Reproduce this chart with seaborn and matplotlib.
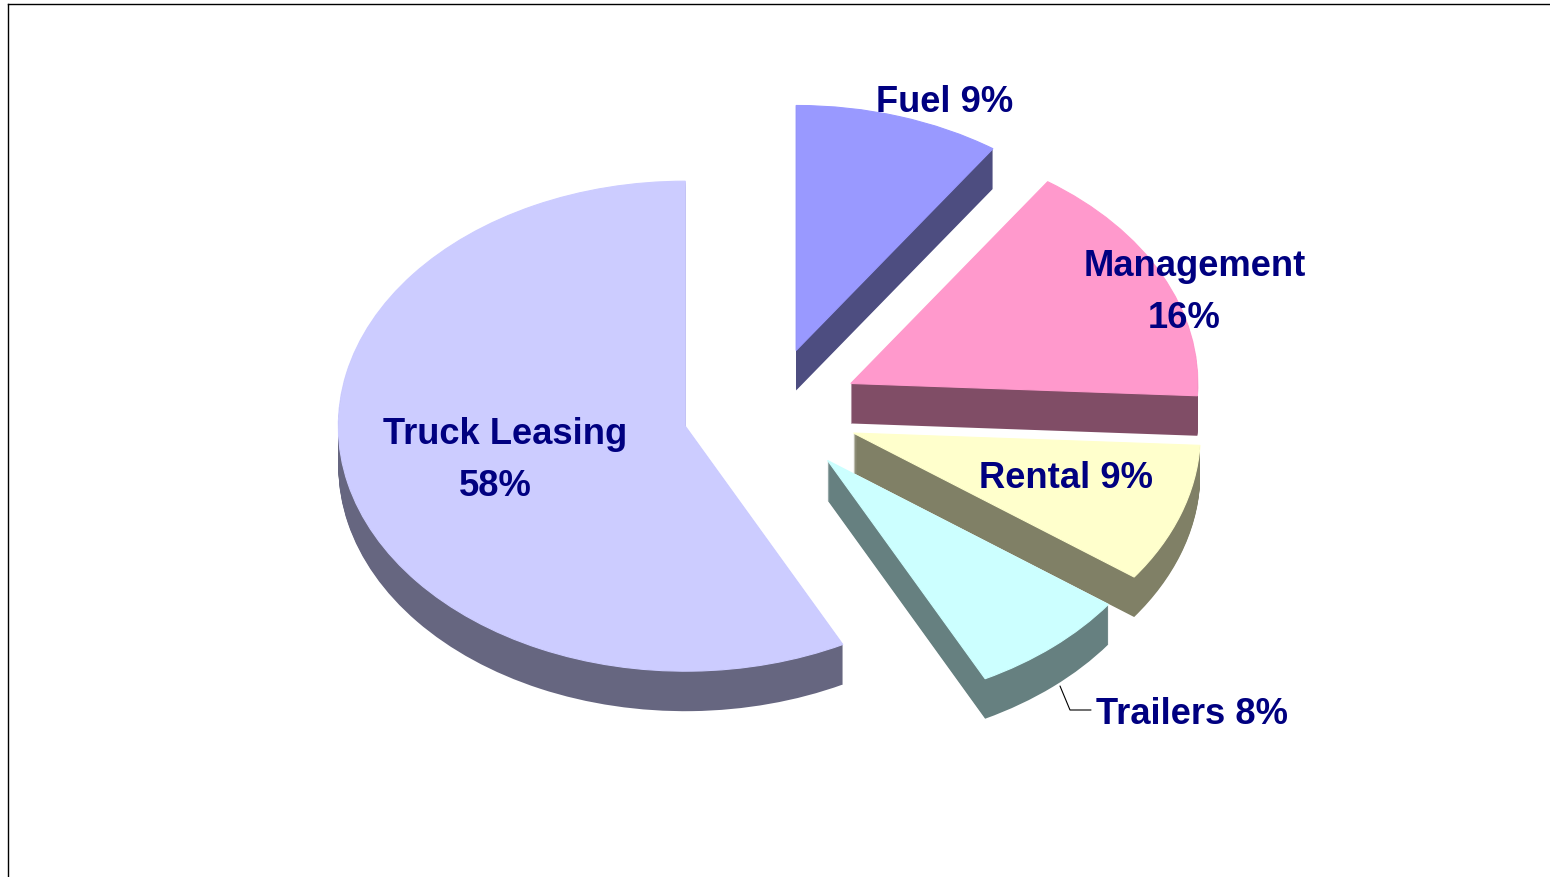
import matplotlib
matplotlib.use("Agg")
import matplotlib.pyplot as plt
import seaborn as sns

categories = ["Truck Leasing", "Trailers", "Rental", "Management", "Fuel"]
shares = [57.5, 7.5, 9.2, 16.2, 9.6]
explode = [0.248, 0.26, 0.258, 0.263, 0.263]
top_colors = ["#CCCCFF", "#CCFFFF", "#FFFFCC", "#FF99CC", "#9999FF"]
side_colors = ["#666680", "#668080", "#808066", "#804D66", "#4D4D80"]
label_lines = ["Truck Leasing", "58%", "Trailers 8%", "Rental 9%", "Management", "16%", "Fuel 9%"]
label_pos = [(505, 434), (495, 486), (1192, 714), (1066, 479), (1195, 266), (1184, 318), (945, 102)]

W, H = 1550, 877
CX, CY, RX, RY, DEPTH = 769, 412, 347, 245, 40
L, T = 8, 4

sns.set_theme(style="white")
plt.rcParams["font.family"] = ["Liberation Sans", "DejaVu Sans"]

fig = plt.figure(figsize=(W / 100, H / 100), dpi=100, facecolor="white")
ax = fig.add_axes([L / W, 0, (W - L) / W, (H - T) / H])

for k in range(DEPTH, 0, -1):
    ax.pie(shares, colors=side_colors, explode=explode, startangle=90, counterclock=True,
           center=(0, -k / RY), radius=1, normalize=True, frame=True,
           wedgeprops={"linewidth": 0.6, "edgecolor": "none"})
top_wedges, _ = ax.pie(shares, colors=top_colors, explode=explode, startangle=90, counterclock=True,
                       center=(0, 0), radius=1, normalize=True, frame=True)
for wedge, color in zip(top_wedges, top_colors):
    wedge.set_edgecolor(color)
    wedge.set_linewidth(0.8)

ax.set_aspect("auto")
ax.set_xlim((L - CX) / RX, (W - CX) / RX)
ax.set_ylim((CY - H) / RY, (CY - T) / RY)
ax.set_xticks([])
ax.set_yticks([])
sns.despine(ax=ax, top=False, right=True, bottom=True, left=False)
for s in ("left", "top"):
    ax.spines[s].set_color("black")
    ax.spines[s].set_linewidth(1.0)


def px(x, y):
    return (x - CX) / RX, (CY - y) / RY


for text, (x, y) in zip(label_lines, label_pos):
    ax.text(*px(x, y), text, ha="center", va="center", color="#000080", fontsize=26.2,
            fontweight="bold", zorder=20)

lx, ly = zip(px(1060, 686), px(1070, 710), px(1091, 710))
ax.plot(lx, ly, color="black", lw=0.8, zorder=20)

fig.savefig("out.png", dpi=100, facecolor="white")
